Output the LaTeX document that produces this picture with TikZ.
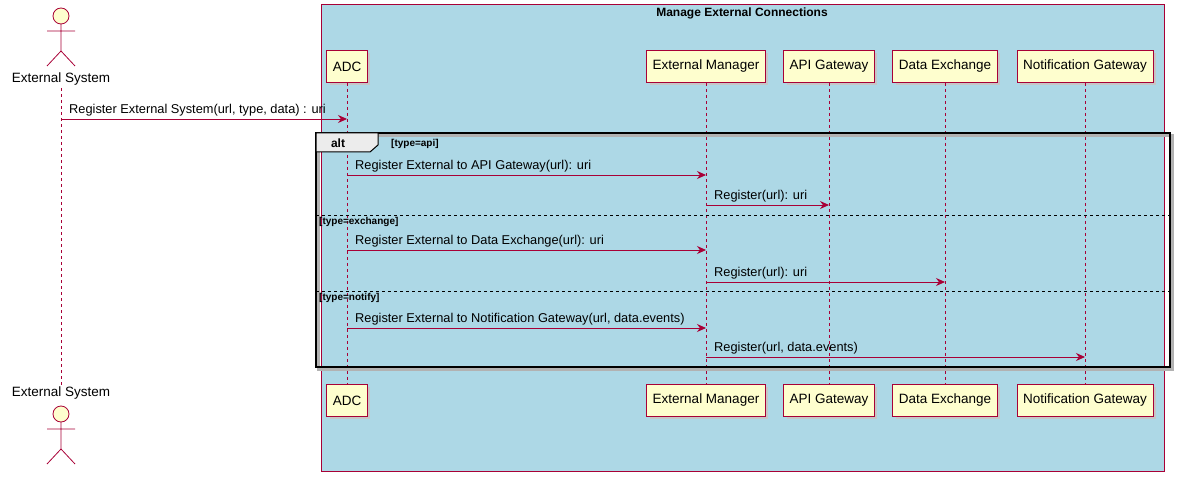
\documentclass[tikz,border=0pt]{standalone}
\usepackage{fontspec}
\setmainfont{Liberation Sans}
\usetikzlibrary{arrows.meta}
\definecolor{dred}{RGB}{168,0,54}
\definecolor{lblue}{RGB}{173,216,230}
\definecolor{pyel}{RGB}{254,254,206}
\begin{document}
\begin{tikzpicture}[x=1pt,y=-1pt,
  part/.style={draw=dred,fill=pyel,line width=0.8pt,minimum height=32pt,inner xsep=6pt,font=\fontsize{13.5}{15}\selectfont,anchor=north},
  life/.style={dred,dashed,line width=0.6pt},
  msg/.style={dred,line width=0.8pt,-{Stealth[length=9pt,width=8pt]}},
  lab/.style={font=\fontsize{12.8}{14}\selectfont,anchor=south west,inner sep=1pt},
  guard/.style={font=\bfseries\fontsize{10}{12}\selectfont,anchor=west,inner sep=1pt}]
\useasboundingbox (0,0) rectangle (1180,481);
\node[draw=dred,fill=lblue,line width=0.6pt,minimum width=843pt,minimum height=467pt,anchor=north west] (box) at (321,4) {};
\node[font=\bfseries\fontsize{12}{14}\selectfont] (title) at (742,13) {Manage External Connections};
% actor
\newcommand{\myactor}[1]{%
 \draw[dred,fill=pyel,line width=0.8pt] (61,#1) circle (8);
 \draw[dred,line width=0.8pt] (61,#1+8) -- (61,#1+35) (47,#1+15) -- (75,#1+15) (47,#1+50) -- (61,#1+35) -- (75,#1+50);}
\myactor{16}
\myactor{414}
\node[font=\fontsize{13.5}{15}\selectfont] (es1) at (61,79) {External System};
\node[font=\fontsize{13.5}{15}\selectfont] (es2) at (61,393) {External System};
\coordinate (esT) at (61,88); \coordinate (esB) at (61,385);
\draw[life] (esT) -- (esB);
% participants
\foreach \n/\x/\t in {adc/347/ADC, em/706/External Manager, api/829/API Gateway, dx/945/Data Exchange, ng/1085/Notification Gateway}{
  \node[part,fill=gray!45,draw=none] at (\x+3,53) {\phantom{\t}};
  \node[part] (\n1) at (\x,50) {\t};
  \node[part,fill=gray!45,draw=none] at (\x+3,387) {\phantom{\t}};
  \node[part] (\n2) at (\x,384) {\t};
  \draw[life] (\n1.south) -- (\n2.north);
}
% first msg
\coordinate (m0a) at (61,119); \coordinate (m0b) at (347,119);
\draw[msg] (m0a) -- (m0b);
\node[lab] at (68,117) {Register External System(url, type, data) : uri};
% alt frame
\draw[gray!60,line width=2.5pt] (318.5,135.5) rectangle (1172.5,369.5);
\draw[black,line width=1.5pt,fill=none] (316,133) rectangle (1170,367);
\draw[black,line width=1pt,fill=gray!15] (316,133) -- (378,133) -- (378,145) -- (370,152) -- (316,152) -- cycle;
\node[font=\bfseries\fontsize{12}{14}\selectfont] (alt) at (338,143) {alt};
\node[guard] (g1) at (390,144) {[type=api]};
\draw[black,dashed,line width=0.6pt] (316,215) -- (1170,215);
\node[guard] (g2) at (318,222) {[type=exchange]};
\draw[black,dashed,line width=0.6pt] (316,291) -- (1170,291);
\node[guard] (g3) at (318,298) {[type=notify]};
% messages
\foreach \y/\a/\b/\t in {175/347/706/Register External to API Gateway(url): uri,
  205/706/829/Register(url): uri,
  250/347/706/Register External to Data Exchange(url): uri,
  282/706/945/Register(url): uri,
  328/347/706/{Register External to Notification Gateway(url, data.events)},
  357/706/1085/{Register(url, data.events)}}{
  \draw[msg] (\a,\y) -- (\b,\y);
  \node[lab] at (\a+7,\y-2) {\t};
}
\end{tikzpicture}
\end{document}
